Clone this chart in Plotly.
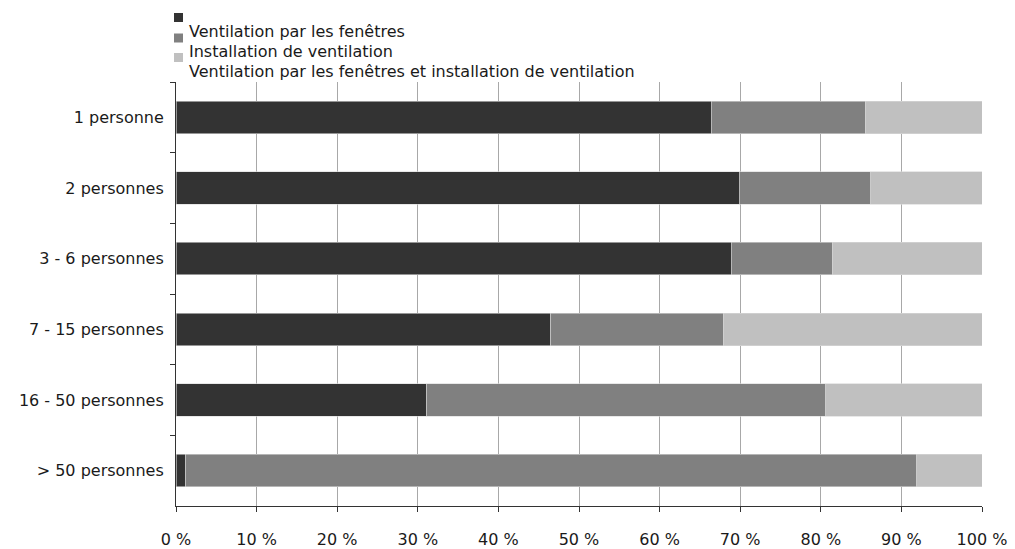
import plotly.graph_objects as go

categories = ["1 personne", "2 personnes", "3 - 6 personnes", "7 - 15 personnes",
              "16 - 50 personnes", "> 50 personnes"]
series_names = ["Ventilation par les fenêtres", "Installation de ventilation",
                "Ventilation par les fenêtres et installation de ventilation"]
fenetres = [66.4, 69.9, 68.9, 46.5, 31.1, 1.2]
installation = [19.1, 16.3, 12.5, 21.4, 49.5, 90.7]
les_deux = [14.5, 13.8, 18.6, 32.1, 19.4, 8.1]
colors = ["#333333", "#808080", "#c0c0c0"]
x_ticks = [0, 10, 20, 30, 40, 50, 60, 70, 80, 90, 100]
x_ticklabels = [f"{v} %" for v in x_ticks]

W, H = 1015, 549
ML, MR, MT, MB = 176, 33, 82, 43
PW, PH = W - ML - MR, H - MT - MB

FONT = "DejaVu Sans, Verdana, sans-serif"
FS = 16

fig = go.Figure()
for name, vals, col in zip(series_names, [fenetres, installation, les_deux], colors):
    fig.add_trace(go.Bar(
        y=categories, x=vals, name=name, orientation="h",
        marker=dict(color=col, line=dict(color="#d8d8d8", width=0.6)),
        width=0.46, showlegend=False,
    ))

def px_x(p):
    return (p - ML) / PW

def px_y(p):
    return (H - MB - p) / PH

# Legend drawn as in reference (symbols offset one line above the labels)
sym_centers = [17.5, 38, 57.5]
txt_centers = [31, 51.5, 72]
for name, col, sc, tc in zip(series_names, colors, sym_centers, txt_centers):
    fig.add_shape(type="rect", xref="paper", yref="paper",
                  x0=px_x(174), x1=px_x(183), y0=px_y(sc + 4.5), y1=px_y(sc - 4.5),
                  fillcolor=col, line=dict(width=0))
    fig.add_annotation(xref="paper", yref="paper", x=px_x(187), y=px_y(tc),
                       xanchor="left", yanchor="middle", text=name, showarrow=False,
                       font=dict(family=FONT, size=FS, color="#1a1a1a"))

fig.update_layout(
    barmode="stack",
    width=W, height=H,
    margin=dict(l=ML, r=MR, t=MT, b=MB, pad=0, autoexpand=False),
    plot_bgcolor="white", paper_bgcolor="white",
    font=dict(family=FONT, size=FS, color="#1a1a1a"),
    bargap=0.54,
)
fig.update_xaxes(
    range=[0, 100], tickvals=x_ticks, ticktext=x_ticklabels,
    showgrid=True, gridcolor="#a8a8a8", gridwidth=1,
    showline=True, linecolor="#333333", linewidth=1,
    ticks="outside", ticklen=5, tickcolor="#333333",
    ticklabelstandoff=14, zeroline=False, automargin=False,
)
fig.update_yaxes(
    autorange="reversed", showgrid=False,
    showline=True, linecolor="#333333", linewidth=1,
    ticks="outside", ticklen=5, tickcolor="#333333", tickson="boundaries",
    ticklabelstandoff=8, automargin=False,
)

fig.write_html("out.html", config={"displayModeBar": False},
               post_script="document.body.style.margin='0px';")
